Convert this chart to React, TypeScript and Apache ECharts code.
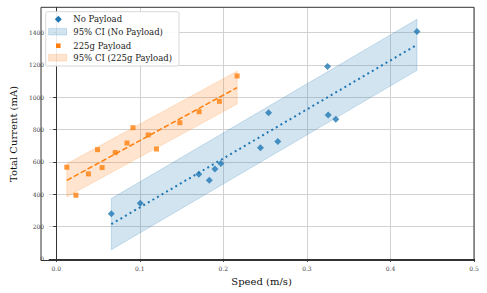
import React, { useEffect, useRef } from "react";
import * as echarts from "echarts";

// ---- data ----
const xTicks = [0, 0.1, 0.2, 0.3, 0.4, 0.5];
const yTicks = [0, 200, 400, 600, 800, 1000, 1200, 1400];

const noPayloadSpeed = [0.0659, 0.1005, 0.1706, 0.1832, 0.1899, 0.197, 0.2444, 0.2541, 0.2652, 0.3247, 0.3255, 0.3346, 0.4318];
const noPayloadCurrent = [280, 344, 524, 487, 557, 590, 688, 905, 726, 1190, 891, 864, 1408];

const payloadSpeed = [0.0126, 0.0235, 0.0385, 0.0494, 0.0549, 0.0706, 0.0847, 0.0918, 0.11, 0.12, 0.1479, 0.171, 0.1953, 0.2165];
const payloadCurrent = [567, 394, 526, 676, 565, 658, 717, 812, 767, 680, 843, 911, 975, 1132];

const noPayloadFitX = [0.0659, 0.4318];
const noPayloadFitY = [215, 1325];
const noPayloadLower = [57, 1167];
const noPayloadUpper = [373, 1483];

const payloadFitX = [0.0126, 0.2165];
const payloadFitY = [486, 1060];
const payloadLower = [384, 958];
const payloadUpper = [588, 1162];

const legendLabels = ["No Payload", "95% CI (No Payload)", "225g Payload", "95% CI (225g Payload)"];

const BLUE = "#1f77b4";
const ORANGE = "#ff7f0e";
const FONT = "DejaVu Serif";

function onTick(v: number, ticks: number[]) {
  return ticks.some((t) => Math.abs(t - v) < 1e-6 * Math.max(1, Math.abs(t)));
}

function bandSeries(xs: number[], lo: number[], up: number[], fill: string, stroke: string) {
  return {
    type: "custom",
    silent: true,
    z: 1,
    data: xs.map((x, i) => [x, lo[i], up[i]]),
    encode: { x: 0, y: [1, 2] },
    renderItem: (params: any, api: any) => {
      if (params.dataIndex !== 0) return null;
      const n = xs.length;
      const pts: number[][] = [];
      for (let i = 0; i < n; i++) pts.push(api.coord([xs[i], lo[i]]));
      for (let i = n - 1; i >= 0; i--) pts.push(api.coord([xs[i], up[i]]));
      return {
        type: "polygon",
        shape: { points: pts },
        style: { fill, stroke, lineWidth: 1 },
      };
    },
  };
}

export default function App() {
  const ref = useRef<HTMLDivElement>(null);
  useEffect(() => {
    if (!ref.current) return;
    const chart = echarts.init(ref.current, undefined, { renderer: "svg" });
    const gridL = 41, gridR = 13, gridT = 7.3, gridB = 32.5;
    const W = 487, H = 293;
    const lx = 45.7, ly = 11.7;
    const rowY = [19.3, 31.7, 45.7, 57.7];
    const textStyle = { fontFamily: FONT, fontSize: 8.5, fill: "#222" };
    chart.setOption({
      animation: false,
      backgroundColor: "#fff",
      grid: { left: gridL, right: gridR, top: gridT, bottom: gridB },
      xAxis: {
        type: "value",
        min: -0.0085,
        max: 0.5,
        minInterval: 0.1,
        maxInterval: 0.1,
        name: "Speed (m/s)",
        nameLocation: "middle",
        nameGap: 15,
        nameTextStyle: { fontFamily: FONT, fontSize: 10, color: "#111" },
        axisLine: { show: true, lineStyle: { color: "#333", width: 1 } },
        axisTick: { show: true, customValues: xTicks, length: 3, lineStyle: { color: "#333" } },
        axisLabel: {
          showMinLabel: true,
          showMaxLabel: true,
          formatter: (v: number) => (onTick(v, xTicks) ? v.toFixed(1) : ""),
          fontFamily: FONT,
          fontSize: 6,
          color: "#444",
          margin: 5,
        },
        splitLine: { show: true, lineStyle: { color: "#d2d2d2", width: 1 } },
      },
      yAxis: {
        type: "value",
        min: -10,
        max: 1557,
        minInterval: 200,
        maxInterval: 200,
        name: "Total Current (mA)",
        nameLocation: "middle",
        nameGap: 23,
        nameTextStyle: { fontFamily: FONT, fontSize: 10, color: "#111" },
        axisLine: { show: true, lineStyle: { color: "#333", width: 1 } },
        axisTick: { show: true, customValues: yTicks, length: 3, lineStyle: { color: "#333" } },
        axisLabel: {
          showMinLabel: true,
          showMaxLabel: true,
          formatter: (v: number) => (onTick(v, yTicks) ? String(Math.round(v)) : ""),
          fontFamily: FONT,
          fontSize: 6,
          color: "#444",
          margin: 5,
        },
        splitLine: { show: true, lineStyle: { color: "#d2d2d2", width: 1 } },
      },
      series: [
        bandSeries(noPayloadFitX, noPayloadLower, noPayloadUpper, "rgba(31,119,180,0.2)", "rgba(31,119,180,0.2)"),
        bandSeries(payloadFitX, payloadLower, payloadUpper, "rgba(255,127,14,0.2)", "rgba(255,127,14,0.2)"),
        {
          type: "line",
          z: 3,
          data: noPayloadFitX.map((x, i) => [x, noPayloadFitY[i]]),
          showSymbol: false,
          symbol: "none",
          lineStyle: { color: BLUE, width: 2, type: [2, 3.3], cap: "butt" },
        },
        {
          type: "line",
          z: 3,
          data: payloadFitX.map((x, i) => [x, payloadFitY[i]]),
          showSymbol: false,
          symbol: "none",
          lineStyle: { color: ORANGE, width: 1.5, type: [5.5, 2.4], cap: "butt" },
        },
        {
          type: "scatter",
          z: 4,
          symbol: "diamond",
          symbolSize: 7,
          itemStyle: { color: BLUE },
          data: noPayloadSpeed.map((x, i) => [x, noPayloadCurrent[i]]),
        },
        {
          type: "scatter",
          z: 4,
          symbol: "rect",
          symbolSize: 5,
          itemStyle: { color: ORANGE },
          data: payloadSpeed.map((x, i) => [x, payloadCurrent[i]]),
        },
      ],
      graphic: [
        {
          type: "rect",
          z: 100,
          silent: true,
          shape: { x: gridL, y: gridT, width: W - gridL - gridR, height: H - gridT - gridB },
          style: { fill: "none", stroke: "#333", lineWidth: 1 },
        },
        {
          type: "rect",
          z: 101,
          shape: { x: lx, y: ly, width: 133.3, height: 54.3, r: 2 },
          style: { fill: "rgba(255,255,255,0.9)", stroke: "#d8d8d8", lineWidth: 1 },
        },
        {
          type: "polygon",
          z: 102,
          shape: { points: [[58.3, rowY[0] - 3.5], [61.8, rowY[0]], [58.3, rowY[0] + 3.5], [54.8, rowY[0]]] },
          style: { fill: BLUE },
        },
        {
          type: "rect",
          z: 102,
          shape: { x: 48.7, y: rowY[1] - 3.3, width: 18, height: 6.6 },
          style: { fill: "rgba(31,119,180,0.2)", stroke: "rgba(31,119,180,0.2)", lineWidth: 1 },
        },
        {
          type: "rect",
          z: 102,
          shape: { x: 56, y: rowY[2] - 2.3, width: 4.6, height: 4.6 },
          style: { fill: ORANGE },
        },
        {
          type: "rect",
          z: 102,
          shape: { x: 48.7, y: rowY[3] - 3.3, width: 18, height: 6.6 },
          style: { fill: "rgba(255,127,14,0.2)", stroke: "rgba(255,127,14,0.2)", lineWidth: 1 },
        },
        ...legendLabels.map((t, i) => ({
          type: "text",
          z: 102,
          x: 73.3,
          y: rowY[i],
          style: { ...textStyle, text: t, verticalAlign: "middle", align: "left" },
        })),
      ],
    });
    return () => chart.dispose();
  }, []);
  return <div ref={ref} style={{ position: "fixed", left: 0, top: 0, width: 487, height: 293 }} />;
}
